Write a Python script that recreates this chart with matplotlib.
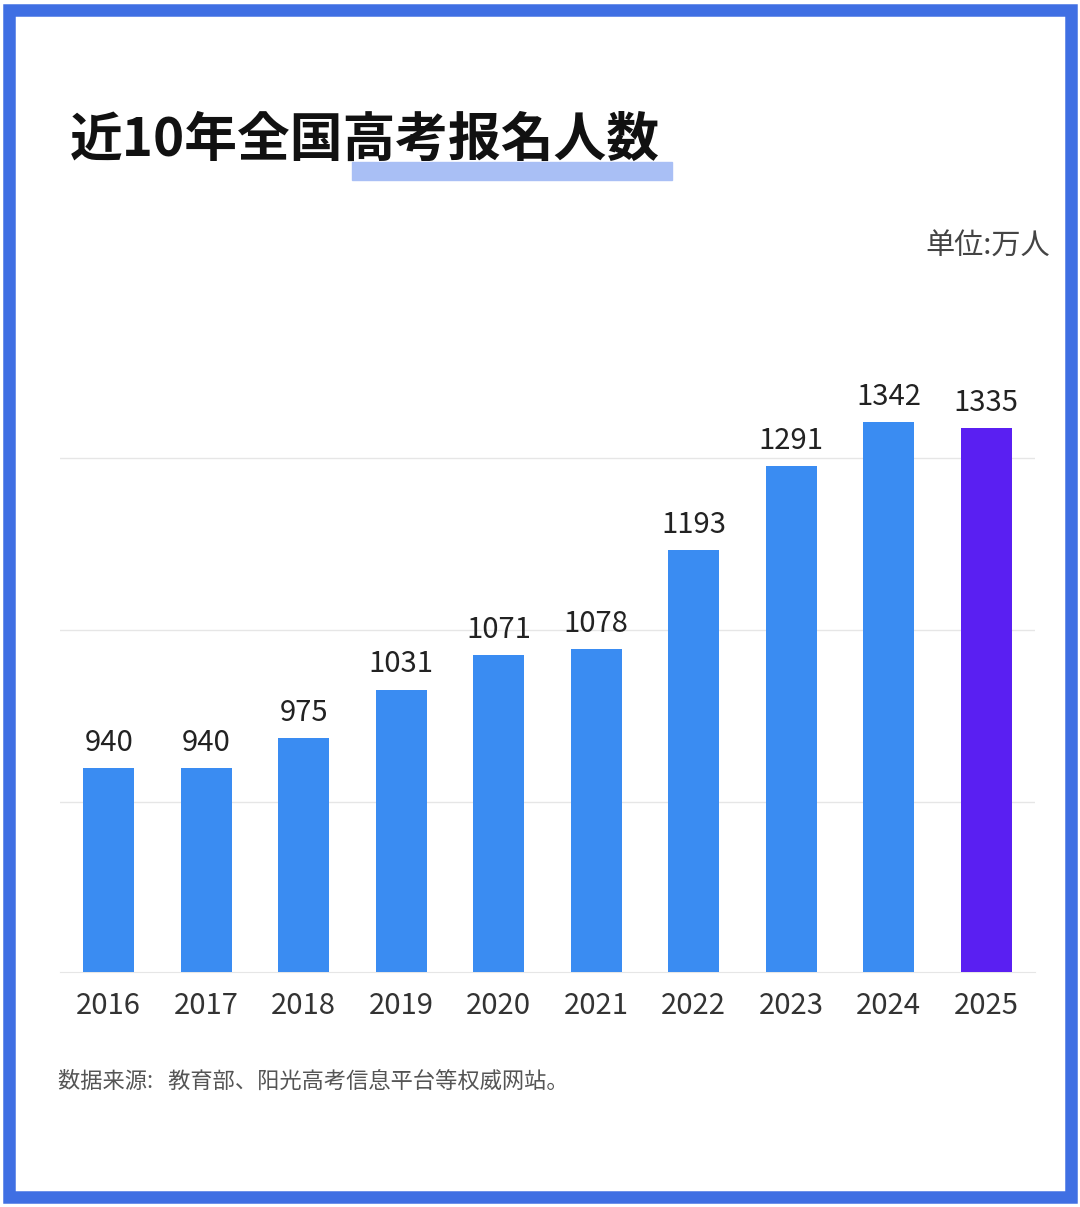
import glob
import matplotlib
matplotlib.use("Agg")
import matplotlib.pyplot as plt
from matplotlib import font_manager
from matplotlib.patches import Rectangle

for f in glob.glob("/usr/share/fonts/**/*CJK*", recursive=True) + glob.glob("/usr/local/share/fonts/**/*CJK*", recursive=True):
    try:
        font_manager.fontManager.addfont(f)
    except Exception:
        pass
cjk = [f.name for f in font_manager.fontManager.ttflist if "CJK" in f.name]
pref = [n for n in ["Noto Sans CJK SC", "Noto Sans CJK JP"] if n in cjk] or cjk[:1]
plt.rcParams["font.family"] = pref + ["DejaVu Sans"]

years = ["2016", "2017", "2018", "2019", "2020", "2021", "2022", "2023", "2024", "2025"]
values = [940, 940, 975, 1031, 1071, 1078, 1193, 1291, 1342, 1335]
colors = ["#3a8cf2"] * 9 + ["#5a1ff2"]

fig = plt.figure(figsize=(10.8, 12.07), dpi=100)
fig.patch.set_facecolor("white")

fig.add_artist(Rectangle((0.008, 0.008), 0.984, 0.984, transform=fig.transFigure,
                         fill=False, edgecolor="#3f6fe3", linewidth=9))

fig.add_artist(Rectangle((352/1080, 1-180/1207), (672-352)/1080, 18/1207,
                         transform=fig.transFigure, color="#a9bff5", zorder=1))
fig.text(70/1080, 1-140/1207, "近10年全国高考报名人数", fontsize=38, fontweight="bold",
         va="center", ha="left", color="#111111", zorder=2)
fig.text(1050/1080, 1-247/1207, "单位:万人", fontsize=21, va="center", ha="right", color="#444444")

ax = fig.add_axes([60/1080, 1-972/1207, 975/1080, 672/1207])
x = range(len(years))
ax.bar(x, values, width=0.52, color=colors, zorder=3)
for i, v in zip(x, values):
    ax.text(i, v + 12, str(v), ha="center", va="bottom", fontsize=21, color="#222222")
ax.set_xlim(-0.5, 9.5)
ax.set_ylim(703, 1484)
ax.set_yticks([900, 1100, 1300])
ax.yaxis.grid(True, color="#e6e6e6", linewidth=1, zorder=0)
ax.tick_params(axis="y", left=False, labelleft=False)
ax.tick_params(axis="x", length=0, labelsize=21, pad=14, labelcolor="#333333")
ax.set_xticks(list(x))
ax.set_xticklabels(years)
for s in ["top", "right", "left"]:
    ax.spines[s].set_visible(False)
ax.spines["bottom"].set_color("#e6e6e6")

fig.text(58/1080, 1-1081/1207, "数据来源:   教育部、阳光高考信息平台等权威网站。", fontsize=16,
         va="center", ha="left", color="#555555")

fig.savefig("out.png", dpi=100)
